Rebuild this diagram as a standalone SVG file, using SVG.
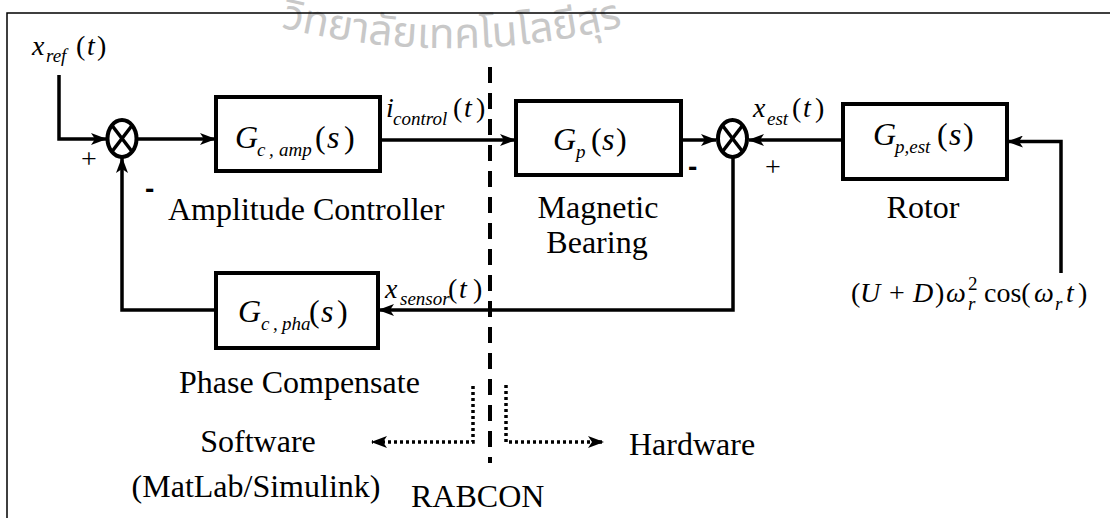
<svg xmlns="http://www.w3.org/2000/svg" width="1110" height="518" viewBox="0 0 1110 518">
<style>
.ln{stroke:#000;stroke-width:3.5;fill:none}
.box{stroke:#000;stroke-width:4;fill:#fff}
.sum{stroke:#000;stroke-width:4;fill:#fff}
.x{stroke:#000;stroke-width:3.5}
.dot{stroke:#000;stroke-width:3.5;fill:none;stroke-dasharray:3 3}
.dash{stroke:#000;stroke-width:4;fill:none;stroke-dasharray:16 10}
.t{font-family:"Liberation Serif","Times New Roman",serif;fill:#000;font-size:32px}
.m{font-family:"Liberation Serif","Times New Roman",serif;fill:#000;font-size:28px}
.b{font-size:32px}
.i{font-style:italic}
.s{font-size:19px;font-style:italic}
.sign{font-family:"Liberation Sans",Arial,sans-serif;font-weight:bold;font-size:28px;fill:#000}
.wm{font-family:"Noto Sans Thai","Noto Sans","DejaVu Sans",sans-serif;font-size:42px;fill:#c8c8c8}
</style>
<defs>
<marker id="ah" viewBox="0 0 16 12" refX="15" refY="6" markerWidth="16" markerHeight="12" markerUnits="userSpaceOnUse" orient="auto">
<path d="M0,0 L16,6 L0,12 L4,6 z" fill="#000"/>
</marker>
<marker id="ah2" viewBox="0 0 16 12" refX="15" refY="6" markerWidth="16" markerHeight="12" markerUnits="userSpaceOnUse" orient="auto">
<path d="M0,0 L16,6 L0,12 L4,6 z" fill="#000"/>
</marker>
<path id="wmArc" d="M250,19 A700,700 0 0 0 650,19"/>
</defs>
<rect width="1110" height="518" fill="#fff"/>
<text class="wm"><textPath href="#wmArc" startOffset="32">วิทยาลัยเทคโนโลยีสุร</textPath></text>
<path d="M7,518 V13 H1110" stroke="#000" stroke-width="1.5" fill="none"/>
<g id="connectors">
<path class="ln" d="M59,75 V139 H106" marker-end="url(#ah)"/>
<path class="ln" d="M138,139 H215" marker-end="url(#ah)"/>
<path class="ln" d="M380,140 H515" marker-end="url(#ah)"/>
<path class="ln" d="M681,140 H716" marker-end="url(#ah)"/>
<path class="ln" d="M843,140 H749" marker-end="url(#ah)"/>
<path class="ln" d="M1061,273 V141.5 H1008" marker-end="url(#ah)"/>
<path class="ln" d="M733,157 V310 H379" marker-end="url(#ah)"/>
<path class="ln" d="M216,310 H122 V158" marker-end="url(#ah)"/>
<path class="dash" d="M490,67 V463"/>
<path class="dot" d="M473,386 V442 H372" marker-end="url(#ah2)"/>
<path class="dot" d="M506,385 V442 H603" marker-end="url(#ah2)"/>
</g>
<g id="sum1">
<ellipse class="sum" cx="122" cy="138.5" rx="14.5" ry="18.5"/>
<line class="x" x1="112" y1="125.5" x2="132" y2="151.5"/>
<line class="x" x1="132" y1="125.5" x2="112" y2="151.5"/>
<text class="m" x="89" y="168" text-anchor="middle">+</text>
<text class="sign" x="145" y="198">-</text>
</g>
<g id="sum2">
<ellipse class="sum" cx="732.5" cy="138.5" rx="14.5" ry="18.5"/>
<line class="x" x1="722.5" y1="125.5" x2="742.5" y2="151.5"/>
<line class="x" x1="742.5" y1="125.5" x2="722.5" y2="151.5"/>
<text class="m" x="773" y="176" text-anchor="middle">+</text>
<text class="sign" x="688" y="176">-</text>
</g>
<g id="xref">
<text class="m"><tspan class="i" x="32" y="55">x</tspan><tspan class="s" x="46" y="62">ref</tspan><tspan x="76" y="55">(</tspan><tspan class="i" x="87" y="55">t</tspan><tspan x="97" y="55">)</tspan></text>
</g>
<g id="gcamp">
<rect class="box" x="216" y="97" width="164" height="74"/>
<text class="m b"><tspan class="i" x="235" y="148">G</tspan><tspan class="s" x="257" y="156">c</tspan><tspan class="s" x="269" y="156">,</tspan><tspan class="s" x="279" y="156">amp</tspan><tspan x="315" y="148">(</tspan><tspan class="i" x="327" y="148">s</tspan><tspan x="344" y="148">)</tspan></text>
<text class="t" x="168" y="220">Amplitude Controller</text>
</g>
<g id="icontrol">
<text class="m"><tspan class="i" x="386" y="117">i</tspan><tspan class="s" x="393" y="125">control</tspan><tspan x="453" y="117">(</tspan><tspan class="i" x="464" y="117">t</tspan><tspan x="476" y="117">)</tspan></text>
</g>
<g id="gp">
<rect class="box" x="516" y="101" width="165" height="74"/>
<text class="m b"><tspan class="i" x="553" y="150">G</tspan><tspan class="s" x="576" y="158">p</tspan><tspan x="591" y="150">(</tspan><tspan class="i" x="602" y="150">s</tspan><tspan x="616" y="150">)</tspan></text>
<text class="t" x="598" y="218" text-anchor="middle">Magnetic</text>
<text class="t" x="597" y="253" text-anchor="middle">Bearing</text>
</g>
<g id="xest">
<text class="m"><tspan class="i" x="753" y="117">x</tspan><tspan class="s" x="767" y="125">est</tspan><tspan x="792" y="117">(</tspan><tspan class="i" x="803" y="117">t</tspan><tspan x="815" y="117">)</tspan></text>
</g>
<g id="gpest">
<rect class="box" x="843" y="104" width="164" height="75"/>
<text class="m b"><tspan class="i" x="873" y="145">G</tspan><tspan class="s" x="895" y="153">p,est</tspan><tspan x="937" y="145">(</tspan><tspan class="i" x="949" y="145">s</tspan><tspan x="963" y="145">)</tspan></text>
<text class="t" x="923" y="218" text-anchor="middle">Rotor</text>
</g>
<g id="disturbance">
<text class="m" font-size="31"><tspan x="851" y="302">(</tspan><tspan class="i" x="860" y="302">U</tspan><tspan x="889" y="302">+</tspan><tspan class="i" x="913" y="302">D</tspan><tspan x="935" y="302">)</tspan><tspan class="i" x="946" y="302">ω</tspan><tspan x="968" y="290" font-size="19">2</tspan><tspan class="s" x="968" y="310">r</tspan><tspan x="984" y="302">cos(</tspan><tspan class="i" x="1034" y="302">ω</tspan><tspan class="s" x="1055" y="310">r</tspan><tspan class="i" x="1066" y="302">t</tspan><tspan x="1078" y="302">)</tspan></text>
</g>
<g id="gcpha">
<rect class="box" x="216" y="273" width="162" height="75"/>
<text class="m b"><tspan class="i" x="238" y="322">G</tspan><tspan class="s" x="261" y="330">c</tspan><tspan class="s" x="273" y="330">,</tspan><tspan class="s" x="282" y="330">pha</tspan><tspan x="309" y="322">(</tspan><tspan class="i" x="321" y="322">s</tspan><tspan x="337" y="322">)</tspan></text>
<text class="t" x="179" y="393">Phase Compensate</text>
</g>
<g id="xsensor">
<text class="m"><tspan class="i" x="385" y="298">x</tspan><tspan class="s" x="400" y="305">sensor</tspan><tspan x="448" y="298">(</tspan><tspan class="i" x="459" y="298">t</tspan><tspan x="473" y="298">)</tspan></text>
</g>
<g id="software">
<text class="t" x="258" y="452" text-anchor="middle">Software</text>
<text class="t" x="256" y="497" text-anchor="middle">(MatLab/Simulink)</text>
</g>
<g id="rabcon">
<text class="t" x="411" y="507">RABCON</text>
</g>
<g id="hardware">
<text class="t" x="629" y="455">Hardware</text>
</g>
</svg>
